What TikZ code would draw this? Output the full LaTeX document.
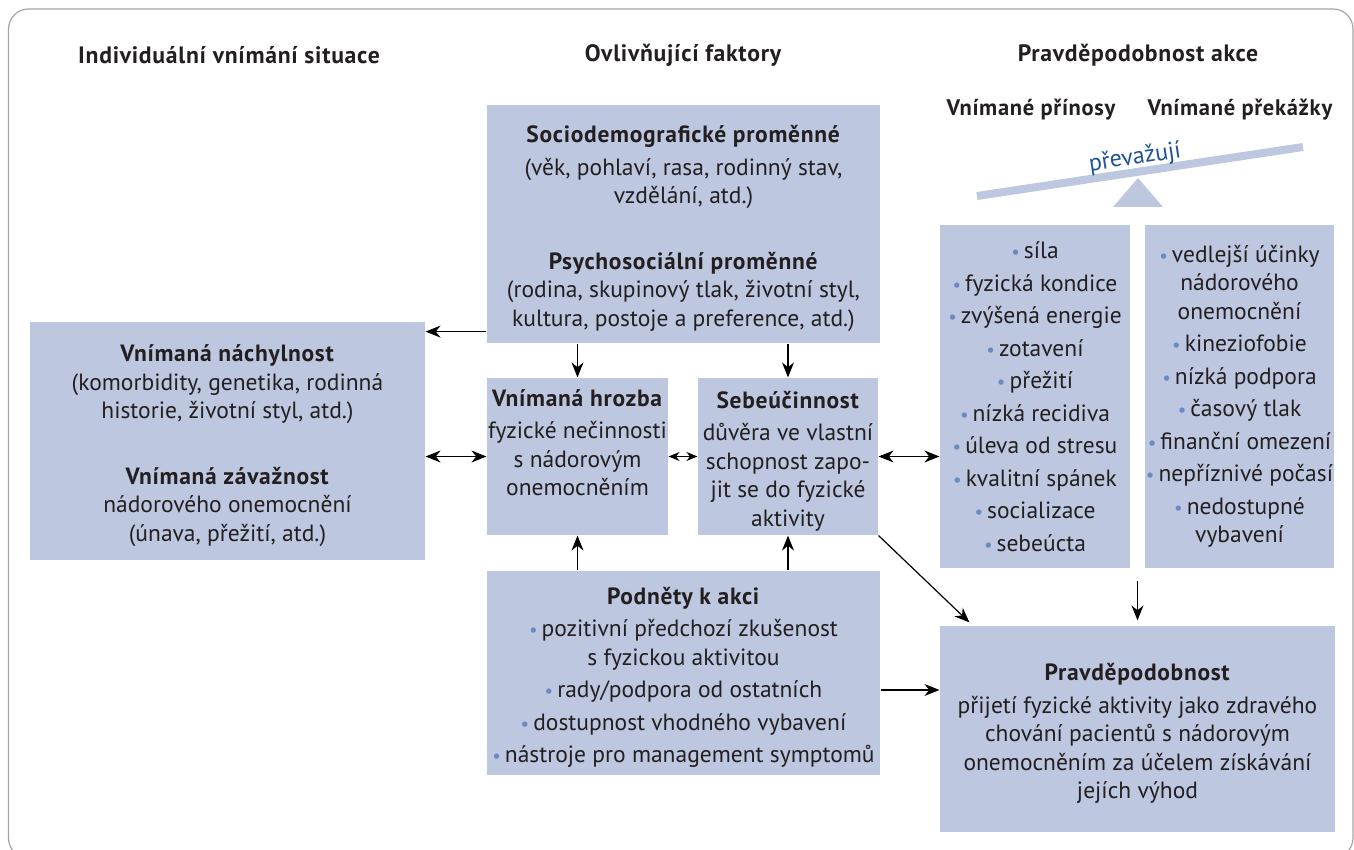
\documentclass[tikz,border=0pt]{standalone}
\usepackage{fontspec}
\setmainfont{PT Sans}[BoldFeatures={LetterSpace=3}]
\usetikzlibrary{arrows.meta}

\definecolor{boxfill}{RGB}{189,199,224}
\definecolor{txt}{RGB}{35,31,32}
\definecolor{dotcol}{RGB}{104,140,194}
\definecolor{tiltcol}{RGB}{30,84,145}
\definecolor{framecol}{RGB}{165,165,165}
\newcommand{\bul}{{\color{dotcol}\fontsize{19}{19}\selectfont\textbullet}\hspace{4pt}}
\newcommand{\topgap}{\rule{0pt}{26pt}}

\begin{document}
\begin{tikzpicture}[x=1pt,y=-1pt,
  >={Stealth[length=15pt,width=12pt]},line width=1.2pt,
  box node/.style={fill=boxfill,inner sep=0pt,align=center,text=txt,
    font=\fontsize{23.5}{28.5}\selectfont},
  head node/.style={text=txt,font=\fontsize{23.7}{28}\selectfont\bfseries}]

  \useasboundingbox (0,0) rectangle (1354,850);
  \draw[framecol,line width=1.2pt,rounded corners=20pt] (8.5,9) rectangle (1353,858);

  \node[head node] (h1) at (229,55) {Individuální vnímání situace};
  \node[head node] (h2) at (683,55) {Ovlivňující faktory};
  \node[head node] (h3) at (1138,55) {Pravděpodobnost akce};
  \node[head node,font=\fontsize{22.5}{28}\selectfont\bfseries] (h4) at (1031,110) {Vnímané přínosy};
  \node[head node,font=\fontsize{22.5}{28}\selectfont\bfseries] (h5) at (1240,110) {Vnímané překážky};

  % vahy
  \draw[boxfill,line width=8pt] (977,196) -- (1303,147);
  \fill[boxfill] (1138,178) -- (1163,207) -- (1113,207) -- cycle;
  \node[text=tiltcol,font=\fontsize{24}{24}\selectfont,rotate=8.6] (tilt) at (1135,158) {převažují};

  \node[box node,minimum width=393,minimum height=238] (socio) at (683.5,224)
    {\topgap\textbf{Sociodemografické proměnné}\\[4pt]
     (věk, pohlaví, rasa, rodinný stav,\\
     vzdělání, atd.)\\[37pt]
     \textbf{Psychosociální proměnné}\\
     (rodina, skupinový tlak, životní styl,\\
     kultura, postoje a preference, atd.)};
  \node[box node,minimum width=395,minimum height=238] (nach) at (227.5,441)
    {\topgap\textbf{Vnímaná náchylnost}\\
     (komorbidity, genetika, rodinná\\
     historie, životní styl, atd.)\\[37pt]
     \textbf{Vnímaná závažnost}\\
     nádorového onemocnění\\
     (únava, přežití, atd.)};
  \node[box node,minimum width=181,minimum height=157] (hrozba) at (577.5,456.5)
    {\topgap\textbf{Vnímaná hrozba}\\[4pt]
     fyzické nečinnosti\\
     s nádorovým\\
     onemocněním\\
     \strut};
  \node[box node,minimum width=180,minimum height=157] (sebe) at (788,456.5)
    {\topgap\textbf{Sebeúčinnost}\\[4pt]
     důvěra ve vlastní\\
     schopnost zapo-\\
     jit se do fyzické\\
     aktivity};
  \node[box node,minimum width=393,minimum height=204] (podnet) at (683.5,673)
    {\topgap\textbf{Podněty k akci}\\[4pt]
     \bul pozitivní předchozí zkušenost\\
     s fyzickou aktivitou\\[4pt]
     \bul rady/podpora od ostatních\\[4pt]
     \bul dostupnost vhodného vybavení\\[4pt]
     \bul nástroje pro management symptomů};
  \node[box node,minimum width=190,minimum height=343] (prinos) at (1035,396.5)
    {\bul síla\\[4pt]
     \bul fyzická kondice\\[4pt]
     \bul zvýšená energie\\[4pt]
     \bul zotavení\\[4pt]
     \bul přežití\\[4pt]
     \bul nízká recidiva\\[4pt]
     \bul úleva od stresu\\[4pt]
     \bul kvalitní spánek\\[4pt]
     \bul socializace\\[4pt]
     \bul sebeúcta};
  \node[box node,minimum width=189,minimum height=343] (prekaz) at (1239.5,396.5)
    {\bul vedlejší účinky\\
     nádorového\\
     onemocnění\\[4pt]
     \bul kineziofobie\\[4pt]
     \bul nízká podpora\\[4pt]
     \bul časový tlak\\[4pt]
     \bul finanční omezení\\[4pt]
     \bul nepříznivé počasí\\[4pt]
     \bul nedostupné\\
     vybavení};
  \node[box node,minimum width=395,minimum height=206] (prav) at (1137.5,729)
    {\topgap\textbf{Pravděpodobnost}\\[4pt]
     přijetí fyzické aktivity jako zdravého\\
     chování pacientů s nádorovým\\
     onemocněním za účelem získávání\\
     jejích výhod};

  \coordinate (s1) at ([yshift=12pt]socio.south west);
  \coordinate (p1) at ([yshift=-17pt]podnet.east);
  \coordinate (p2) at ([xshift=30pt,yshift=3pt]prav.north west);

  \path[->]
   (s1) edge (s1 -| nach.east)
   (socio.south -| hrozba.north) edge (hrozba.north)
   (socio.south -| sebe.north) edge (sebe.north)
   (podnet.north -| hrozba.south) edge (hrozba.south)
   (podnet.north -| sebe.south) edge (sebe.south)
   (sebe.south east) edge (p2)
   (p1) edge (p1 -| prav.west)
   (prav.north |- prinos.south) edge[shorten <=12pt,shorten >=5pt] (prav.north);

  \path[<->]
   (hrozba.west -| nach.east) edge (hrozba.west)
   (sebe.east) edge (sebe.east -| prinos.west);
  \path[<->,>={Stealth[length=11pt,width=9pt]}]
   (hrozba.east) edge (sebe.west);
\end{tikzpicture}
\end{document}
